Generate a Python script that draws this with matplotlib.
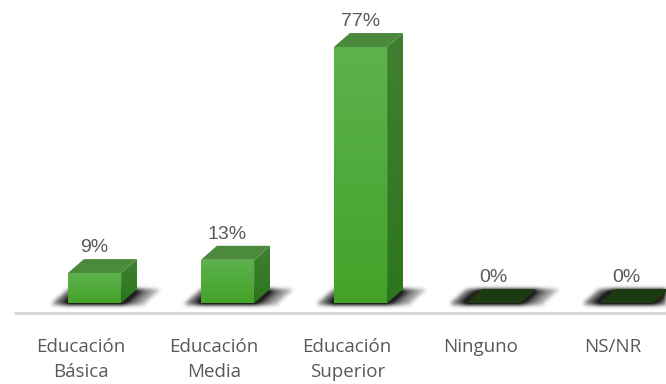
import numpy as np
import matplotlib
matplotlib.use("Agg")
import matplotlib.pyplot as plt
from matplotlib.patches import Polygon
from matplotlib.colors import LinearSegmentedColormap

categories = ["Educación\nBásica", "Educación\nMedia", "Educación\nSuperior", "Ninguno", "NS/NR"]
values = [9, 13, 77, 0, 0]
labels = ["9%", "13%", "77%", "0%", "0%"]

fig = plt.figure(figsize=(6.66, 3.84), dpi=100)
ax = fig.add_axes([0, 0, 1, 1])
xlim = (-0.7105, 4.297)
ylim = (-24.36, 91.13)
ax.set_xlim(*xlim)
ax.set_ylim(*ylim)
ax.axis("off")

w = 0.40            # front face width
dx, dy = 0.12, 4.2  # depth offset of the 3d box

front_cmap = LinearSegmentedColormap.from_list("front", ["#44a229", "#5db24d"])
side_cmap = LinearSegmentedColormap.from_list("side", ["#2c761d", "#3f8030"])

# floor line
ax.plot([-0.605, xlim[1]], [-3.0, -3.0], color="#d9d9d9", lw=2.2,
        solid_capstyle="butt", zorder=1)

# soft floor shadows, built on a pixel grid and blurred
nx, ny = 666, 384
gx = np.linspace(xlim[0], xlim[1], nx)
gy = np.linspace(ylim[0], ylim[1], ny)
X, Y = np.meshgrid(gx, gy)
px_x = nx / (xlim[1] - xlim[0])
alpha = np.zeros_like(X)
for i in range(len(values)):
    x0, x1 = i - w / 2, i + w / 2
    u = X - (np.clip(Y, 0, dy) / dy) * dx
    inside = (Y >= -0.8) & (Y <= dy * 0.95) & (u >= x0 - 16 / px_x) & (u <= x1 + 24 / px_x)
    d = np.maximum(np.maximum(x0 - u, u - x1), 0) * px_x
    alpha = np.maximum(alpha, inside * np.exp(-d / 16))

k = np.arange(-7, 8)
kern = np.exp(-k ** 2 / (2 * 2.0 ** 2))
kern /= kern.sum()
alpha = np.apply_along_axis(lambda r: np.convolve(r, kern, mode="same"), 1, alpha)
alpha = np.apply_along_axis(lambda c: np.convolve(c, kern, mode="same"), 0, alpha)
alpha = np.clip(alpha * 1.25, 0, 0.95)
shadow = np.zeros((ny, nx, 4))
shadow[..., :3] = 0.08
shadow[..., 3] = alpha
ax.imshow(shadow, extent=(*xlim, *ylim), origin="lower", aspect="auto",
          interpolation="bilinear", zorder=2)

grad = np.linspace(0, 1, 100).reshape(-1, 1)
for i, v in enumerate(values):
    x0, x1 = i - w / 2, i + w / 2

    if v == 0:
        ax.add_patch(Polygon([(x0, 0), (x1, 0), (x1 + dx, dy), (x0 + dx, dy)],
                             closed=True, fc="#1c3b10", ec="none", zorder=3))
    else:
        # front face with vertical gradient
        front = Polygon([(x0, 0), (x1, 0), (x1, v), (x0, v)], closed=True,
                        fc="none", ec="none", zorder=3)
        ax.add_patch(front)
        im = ax.imshow(grad, cmap=front_cmap, extent=(x0, x1, 0, v), origin="lower",
                       aspect="auto", zorder=3)
        im.set_clip_path(front)

        # right side face
        side = Polygon([(x1, 0), (x1 + dx, dy), (x1 + dx, v + dy), (x1, v)], closed=True,
                       fc="none", ec="none", zorder=3)
        ax.add_patch(side)
        im2 = ax.imshow(grad, cmap=side_cmap, extent=(x1, x1 + dx, 0, v + dy),
                        origin="lower", aspect="auto", zorder=3)
        im2.set_clip_path(side)

        # top face
        ax.add_patch(Polygon([(x0, v), (x1, v), (x1 + dx, v + dy), (x0 + dx, v + dy)],
                             closed=True, fc="#4b8a3d", ec="none", zorder=4))

    ax.text(i, v + dy + 0.9, labels[i], ha="center", va="bottom",
            fontsize=14, color="#595959", family="Liberation Sans", zorder=5)

for i, c in enumerate(categories):
    ax.text(i - 0.1, -10.6, c, ha="center", va="top", fontsize=13.5,
            color="#595959", family="Open Sans", linespacing=1.5)

ax.set_xlim(*xlim)
ax.set_ylim(*ylim)
fig.savefig("out.png", dpi=100)
